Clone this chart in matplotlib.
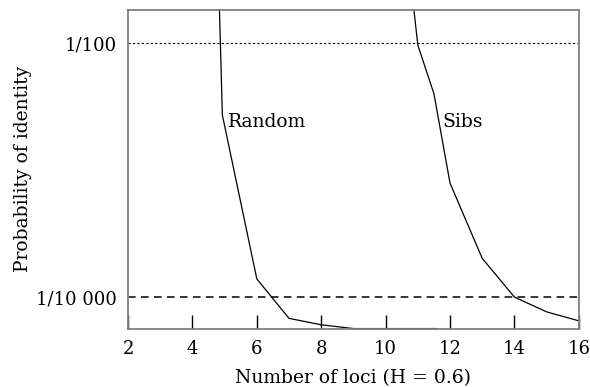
import matplotlib.pyplot as plt

# values (probability of identity, log scale)
random_loci = [4.84, 4.93, 6, 7, 8, 9, 11.58]
random_pi = [0.0182, 2.71e-3, 1.39e-4, 6.8e-5, 6.05e-5, 5.65e-5, 5.65e-5]

sibs_loci = [10.88, 11, 11.5, 12, 13, 14, 15, 16]
sibs_pi = [0.0182, 9.65e-3, 4.0e-3, 7.9e-4, 2.02e-4, 1.0e-4, 7.65e-5, 6.5e-5]

ref_levels = [0.01, 0.0001]
ref_labels = ['1/100', '1/10 000']
x_ticks = [2, 4, 6, 8, 10, 12, 14, 16]

plt.rcParams['font.family'] = 'DejaVu Serif'

fig = plt.figure(figsize=(5.9, 3.87), dpi=100)
ax = fig.add_axes([0.217, 0.151, 0.764, 0.823])

ax.plot(random_loci, random_pi, color='black', lw=0.9, clip_on=False)
ax.plot(sibs_loci, sibs_pi, color='black', lw=0.9, clip_on=False)

ax.axhline(ref_levels[0], color='black', lw=0.8, ls=(0, (2, 2)))
ax.axhline(ref_levels[1], color='black', lw=1.1, ls=(0, (5, 3.5)))

ax.set_yscale('log')
ax.set_xlim(2, 16)
ax.set_ylim(5.65e-5, 0.0182)
ax.set_yticks(ref_levels)
ax.set_yticklabels(ref_labels)
ax.minorticks_off()
ax.set_xticks(x_ticks)

ax.tick_params(axis='y', length=0, labelsize=13, pad=8)
ax.tick_params(axis='x', direction='in', length=10, width=1, color='black',
               labelsize=13, pad=8)

for s in ax.spines.values():
    s.set_color('#808080')
    s.set_linewidth(1.3)

ax.text(5.1, 2.4e-3, 'Random', fontsize=13.5, va='center', ha='left')
ax.text(11.75, 2.4e-3, 'Sibs', fontsize=13.5, va='center', ha='left')

ax.set_xlabel('Number of loci (H = 0.6)', fontsize=13.5, labelpad=8)
ax.set_ylabel('Probability of identity', fontsize=13.5, labelpad=3)

fig.savefig('out.png', dpi=100)
